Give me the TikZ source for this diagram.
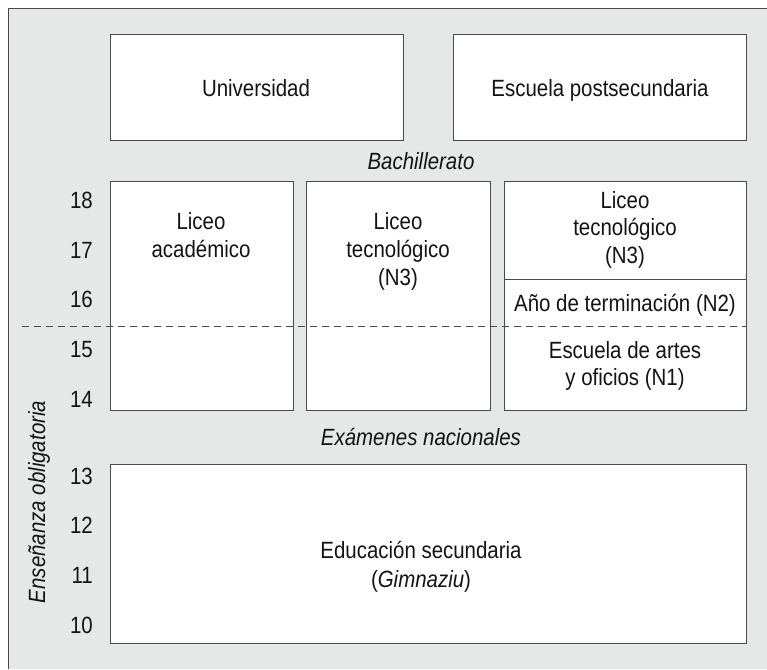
\documentclass[tikz,border=0pt]{standalone}
\usepackage{fontspec}
\setmainfont{Liberation Sans}[FakeStretch=0.87]
\definecolor{bgc}{HTML}{E6E7E7}
\definecolor{linec}{HTML}{4A4A4A}
\definecolor{txtc}{HTML}{141414}
\tikzset{
  boxst/.style={draw=linec, fill=white, line width=0.9pt, inner sep=0pt, anchor=north west},
  lbl/.style={anchor=base, inner sep=0pt, text=txtc, font=\fontsize{23.5}{28}\selectfont},
  ilbl/.style={lbl, font=\fontsize{23.5}{28}\selectfont\itshape},
  num/.style={anchor=base east, inner sep=0pt, text=txtc, font=\fontsize{23.5}{28}\selectfont},
}
\begin{document}
\begin{tikzpicture}[x=1pt, y=-1pt]
\useasboundingbox (0,0) rectangle (767,669);
\fill[bgc] (8,8) rectangle (767,669);
\draw[linec, line width=0.9pt] (8,669) -- (8,8) -- (767,8);
% boxes
\node[boxst, minimum width=293pt, minimum height=106pt] (uni) at (110,34) {};
\node[boxst, minimum width=293pt, minimum height=106pt] (post) at (453,34) {};
\node[boxst, minimum width=183pt, minimum height=229pt] (acad) at (110,181) {};
\node[boxst, minimum width=184pt, minimum height=229pt] (tec) at (306,181) {};
\node[boxst, minimum width=242pt, minimum height=229pt] (right) at (504,181) {};
\node[boxst, minimum width=636pt, minimum height=179pt] (sec) at (110,464) {};
\coordinate (div) at (504,279);
\draw[linec, line width=0.9pt] (div) -- (div -| right.east);
% dashed line
\coordinate (dl) at (22,326);
\draw[linec, line width=0.9pt, dash pattern=on 7pt off 5pt] (dl) -- (dl -| right.east);
% texts
\node[lbl] (tuni) at (256,96) {Universidad};
\node[lbl] (tpost) at (600,96) {Escuela postsecundaria};
\node[ilbl] (tbach) at (421,169) {Bachillerato};
\node[lbl] (tacad) at (201,229) {Liceo};
\node[lbl] (tacad2) at (201,257) {académico};
\node[lbl] (ttec1) at (398,229) {Liceo};
\node[lbl] (ttec2) at (398,257) {tecnológico};
\node[lbl] (ttec3) at (398,285) {(N3)};
\node[lbl] (tr1) at (625,208) {Liceo};
\node[lbl] (tr2) at (625,235) {tecnológico};
\node[lbl] (tr3) at (625,263) {(N3)};
\node[lbl] (tr4) at (625,311) {Año de terminación (N2)};
\node[lbl] (tr5) at (625,358) {Escuela de artes};
\node[lbl] (tr6) at (625,385) {y oficios (N1)};
\node[ilbl] (texam) at (421,445) {Exámenes nacionales};
\node[lbl] (tsec1) at (421,558) {Educación secundaria};
\node[lbl] (tsec2) at (421,587) {(\textit{Gimnaziu})};
\node[ilbl, rotate=90] (toblig) at (45,502) {Enseñanza obligatoria};
% year numbers
\node[num] (n18) at (93,208) {18};
\node[num] (n17) at (93,258) {17};
\node[num] (n16) at (93,307) {16};
\node[num] (n15) at (93,357) {15};
\node[num] (n14) at (93,407) {14};
\node[num] (n13) at (93,484) {13};
\node[num] (n12) at (93,533) {12};
\node[num] (n11) at (93,583) {11};
\node[num] (n10) at (93,633) {10};
\end{tikzpicture}
\end{document}
